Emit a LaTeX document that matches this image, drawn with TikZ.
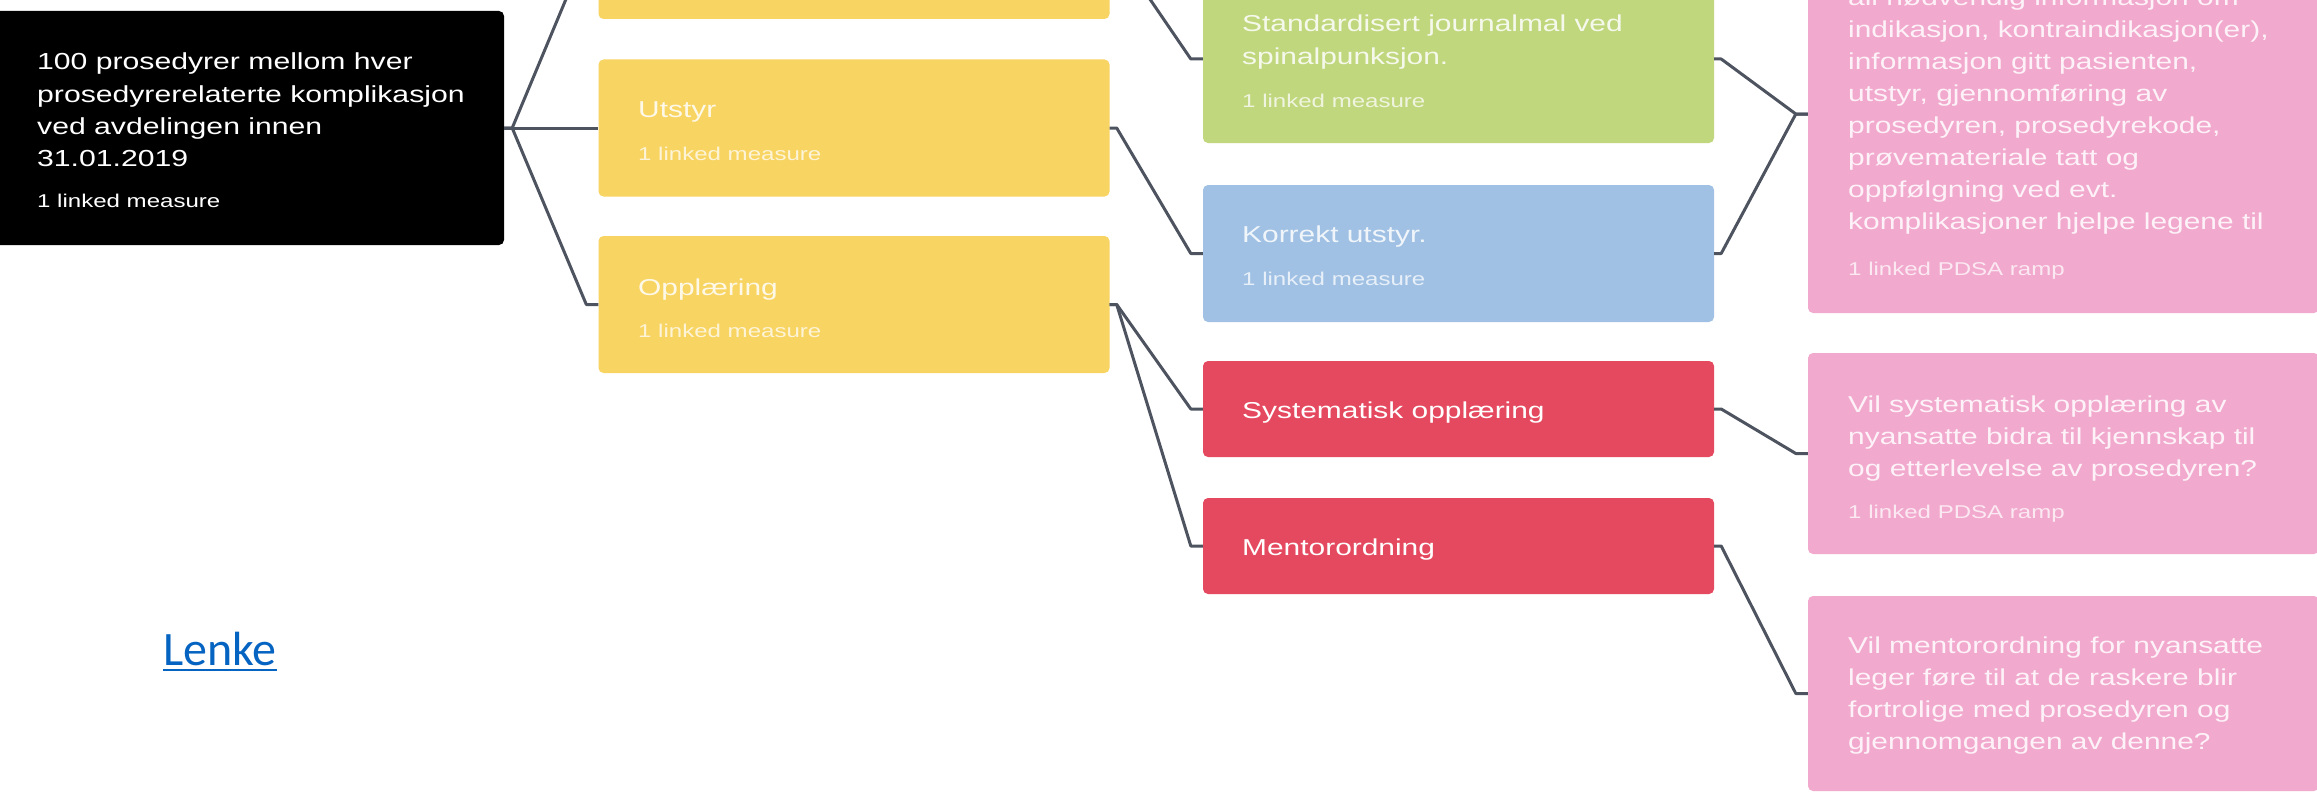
\documentclass[tikz,border=0pt]{standalone}
\usepackage{fontspec}
\setmainfont{Liberation Sans}
\newfontfamily\boxfont[FakeStretch=1.30]{Liberation Sans}
\newfontfamily\linkfont{Carlito}
\usetikzlibrary{calc}

\definecolor{cYellow}{HTML}{F8D462}
\definecolor{cGreen}{HTML}{C1D77E}
\definecolor{cBlue}{HTML}{A0C1E4}
\definecolor{cRed}{HTML}{E5495F}
\definecolor{cPink}{HTML}{F2A9CE}
\definecolor{cLine}{HTML}{4E5360}
\definecolor{cLink}{HTML}{0563C1}

\tikzset{
  card/.style={rectangle, rounded corners=5pt, minimum width=511pt, inner sep=0pt, draw=none},
  ttl/.style={font=\boxfont\fontsize{23}{28}\selectfont, inner sep=0pt, anchor=base west, text=white},
  goalttl/.style={ttl, font=\boxfont\fontsize{23.2}{28}\selectfont},
  meas/.style={font=\boxfont\fontsize{18.5}{22}\selectfont, inner sep=0pt, anchor=base west, text=white},
  soft/.style={text opacity=0.85},
  softer/.style={text opacity=0.75},
  conn/.style={draw=cLine, line width=3pt, line join=round},
}

% one node per text line, 32pt apart, starting at a baseline
\newcommand\textlines[5]{%
  \foreach \ln [count=\k from 0] in {#5}{%
    \node[#4] (#1-\k) at (#2, {#3+32*\k}) {\ln};
  }%
}
% elbow connector: short stub, slanted run, short stub into the child
\newcommand\joinboxes[2]{%
  \draw[conn] (#1.east) -- ++(7,0) -- ($(#2.west)+(-12,0)$) -- (#2.west);
}

\begin{document}
\begin{tikzpicture}[x=1pt, y=-1pt]
\useasboundingbox (0,0) rectangle (2317,792);
\fill[white] (0,0) rectangle (2317,792);
\clip (0,0) rectangle (2317,792);

% goal
\node[card, fill=black, minimum height=234pt] (goal) at (248.5,128) {};
% primary drivers
\node[card, fill=cYellow, minimum height=137pt] (ytop) at (854,-49.5) {};
\node[card, fill=cYellow, minimum height=137pt] (utstyr) at (854,128) {};
\node[card, fill=cYellow, minimum height=137pt] (opplaering) at (854,304.5) {};
% secondary drivers
\node[card, fill=cGreen, minimum height=168pt] (journal) at (1458.5,59) {};
\node[card, fill=cBlue, minimum height=137pt] (korrekt) at (1458.5,253.5) {};
\node[card, fill=cRed, minimum height=96pt] (system) at (1458.5,409) {};
\node[card, fill=cRed, minimum height=96pt] (mentor) at (1458.5,546) {};
% change ideas
\node[card, fill=cPink, minimum height=398pt] (idea1) at (2063.5,114) {};
\node[card, fill=cPink, minimum height=201pt] (idea2) at (2063.5,453.5) {};
\node[card, fill=cPink, minimum height=195pt] (idea3) at (2063.5,693.5) {};

% connectors
\draw[conn] (goal.east) -- ++(8,0) -- ($(ytop.west)+(-12,0)$) -- (ytop.west);
\draw[conn] (goal.east) -- (utstyr.west);
\draw[conn] (goal.east) -- ++(8,0) -- ($(opplaering.west)+(-12,0)$) -- (opplaering.west);
\joinboxes{ytop}{journal}
\joinboxes{utstyr}{korrekt}
\joinboxes{opplaering}{system}
\joinboxes{opplaering}{mentor}
\joinboxes{journal}{idea1}
\joinboxes{korrekt}{idea1}
\joinboxes{system}{idea2}
\joinboxes{mentor}{idea3}

% texts
\textlines{goal-t}{37}{70}{goalttl}{100 prosedyrer mellom hver, prosedyrerelaterte komplikasjon, ved avdelingen innen, 31.01.2019}
\node[meas] (goal-m) at (37,207) {1 linked measure};

\node[ttl, soft] (utstyr-t) at (638,117) {Utstyr};
\node[meas, softer] (utstyr-m) at (638,160) {1 linked measure};
\node[ttl, soft] (opplaering-t) at (638,295) {Opplæring};
\node[meas, softer] (opplaering-m) at (638,337) {1 linked measure};

\textlines{journal-t}{1242}{32}{ttl, soft}{Standardisert journalmal ved, spinalpunksjon.}
\node[meas, softer] (journal-m) at (1242,107) {1 linked measure};
\node[ttl, soft] (korrekt-t) at (1242,242) {Korrekt utstyr.};
\node[meas, softer] (korrekt-m) at (1242,285) {1 linked measure};
\node[ttl] (system-t) at (1242,418) {Systematisk opplæring};
\node[ttl] (mentor-t) at (1242,555) {Mentorordning};

\textlines{idea1-t}{1848}{5.5}{ttl, soft}{all nødvendig informasjon om, {indikasjon, kontraindikasjon(er),}, {informasjon gitt pasienten,}, {utstyr, gjennomføring av}, {prosedyren, prosedyrekode,}, prøvemateriale tatt og, oppfølgning ved evt., komplikasjoner hjelpe legene til}
\node[meas, softer] (idea1-m) at (1848,275) {1 linked PDSA ramp};
\textlines{idea2-t}{1848}{412}{ttl, soft}{Vil systematisk opplæring av, nyansatte bidra til kjennskap til, og etterlevelse av prosedyren?}
\node[meas, softer] (idea2-m) at (1848,518) {1 linked PDSA ramp};
\textlines{idea3-t}{1848}{653}{ttl, soft}{Vil mentorordning for nyansatte, leger føre til at de raskere blir, fortrolige med prosedyren og, gjennomgangen av denne?}

% hyperlink
\node[font=\linkfont\fontsize{48}{56}\selectfont, text=cLink, anchor=base west, inner sep=0pt] (lenke) at (163,665) {Lenke};
\draw[cLink, line width=2.7pt] ([yshift=-5pt]lenke.base west) -- ([yshift=-5pt]lenke.base east);
\end{tikzpicture}
\end{document}
